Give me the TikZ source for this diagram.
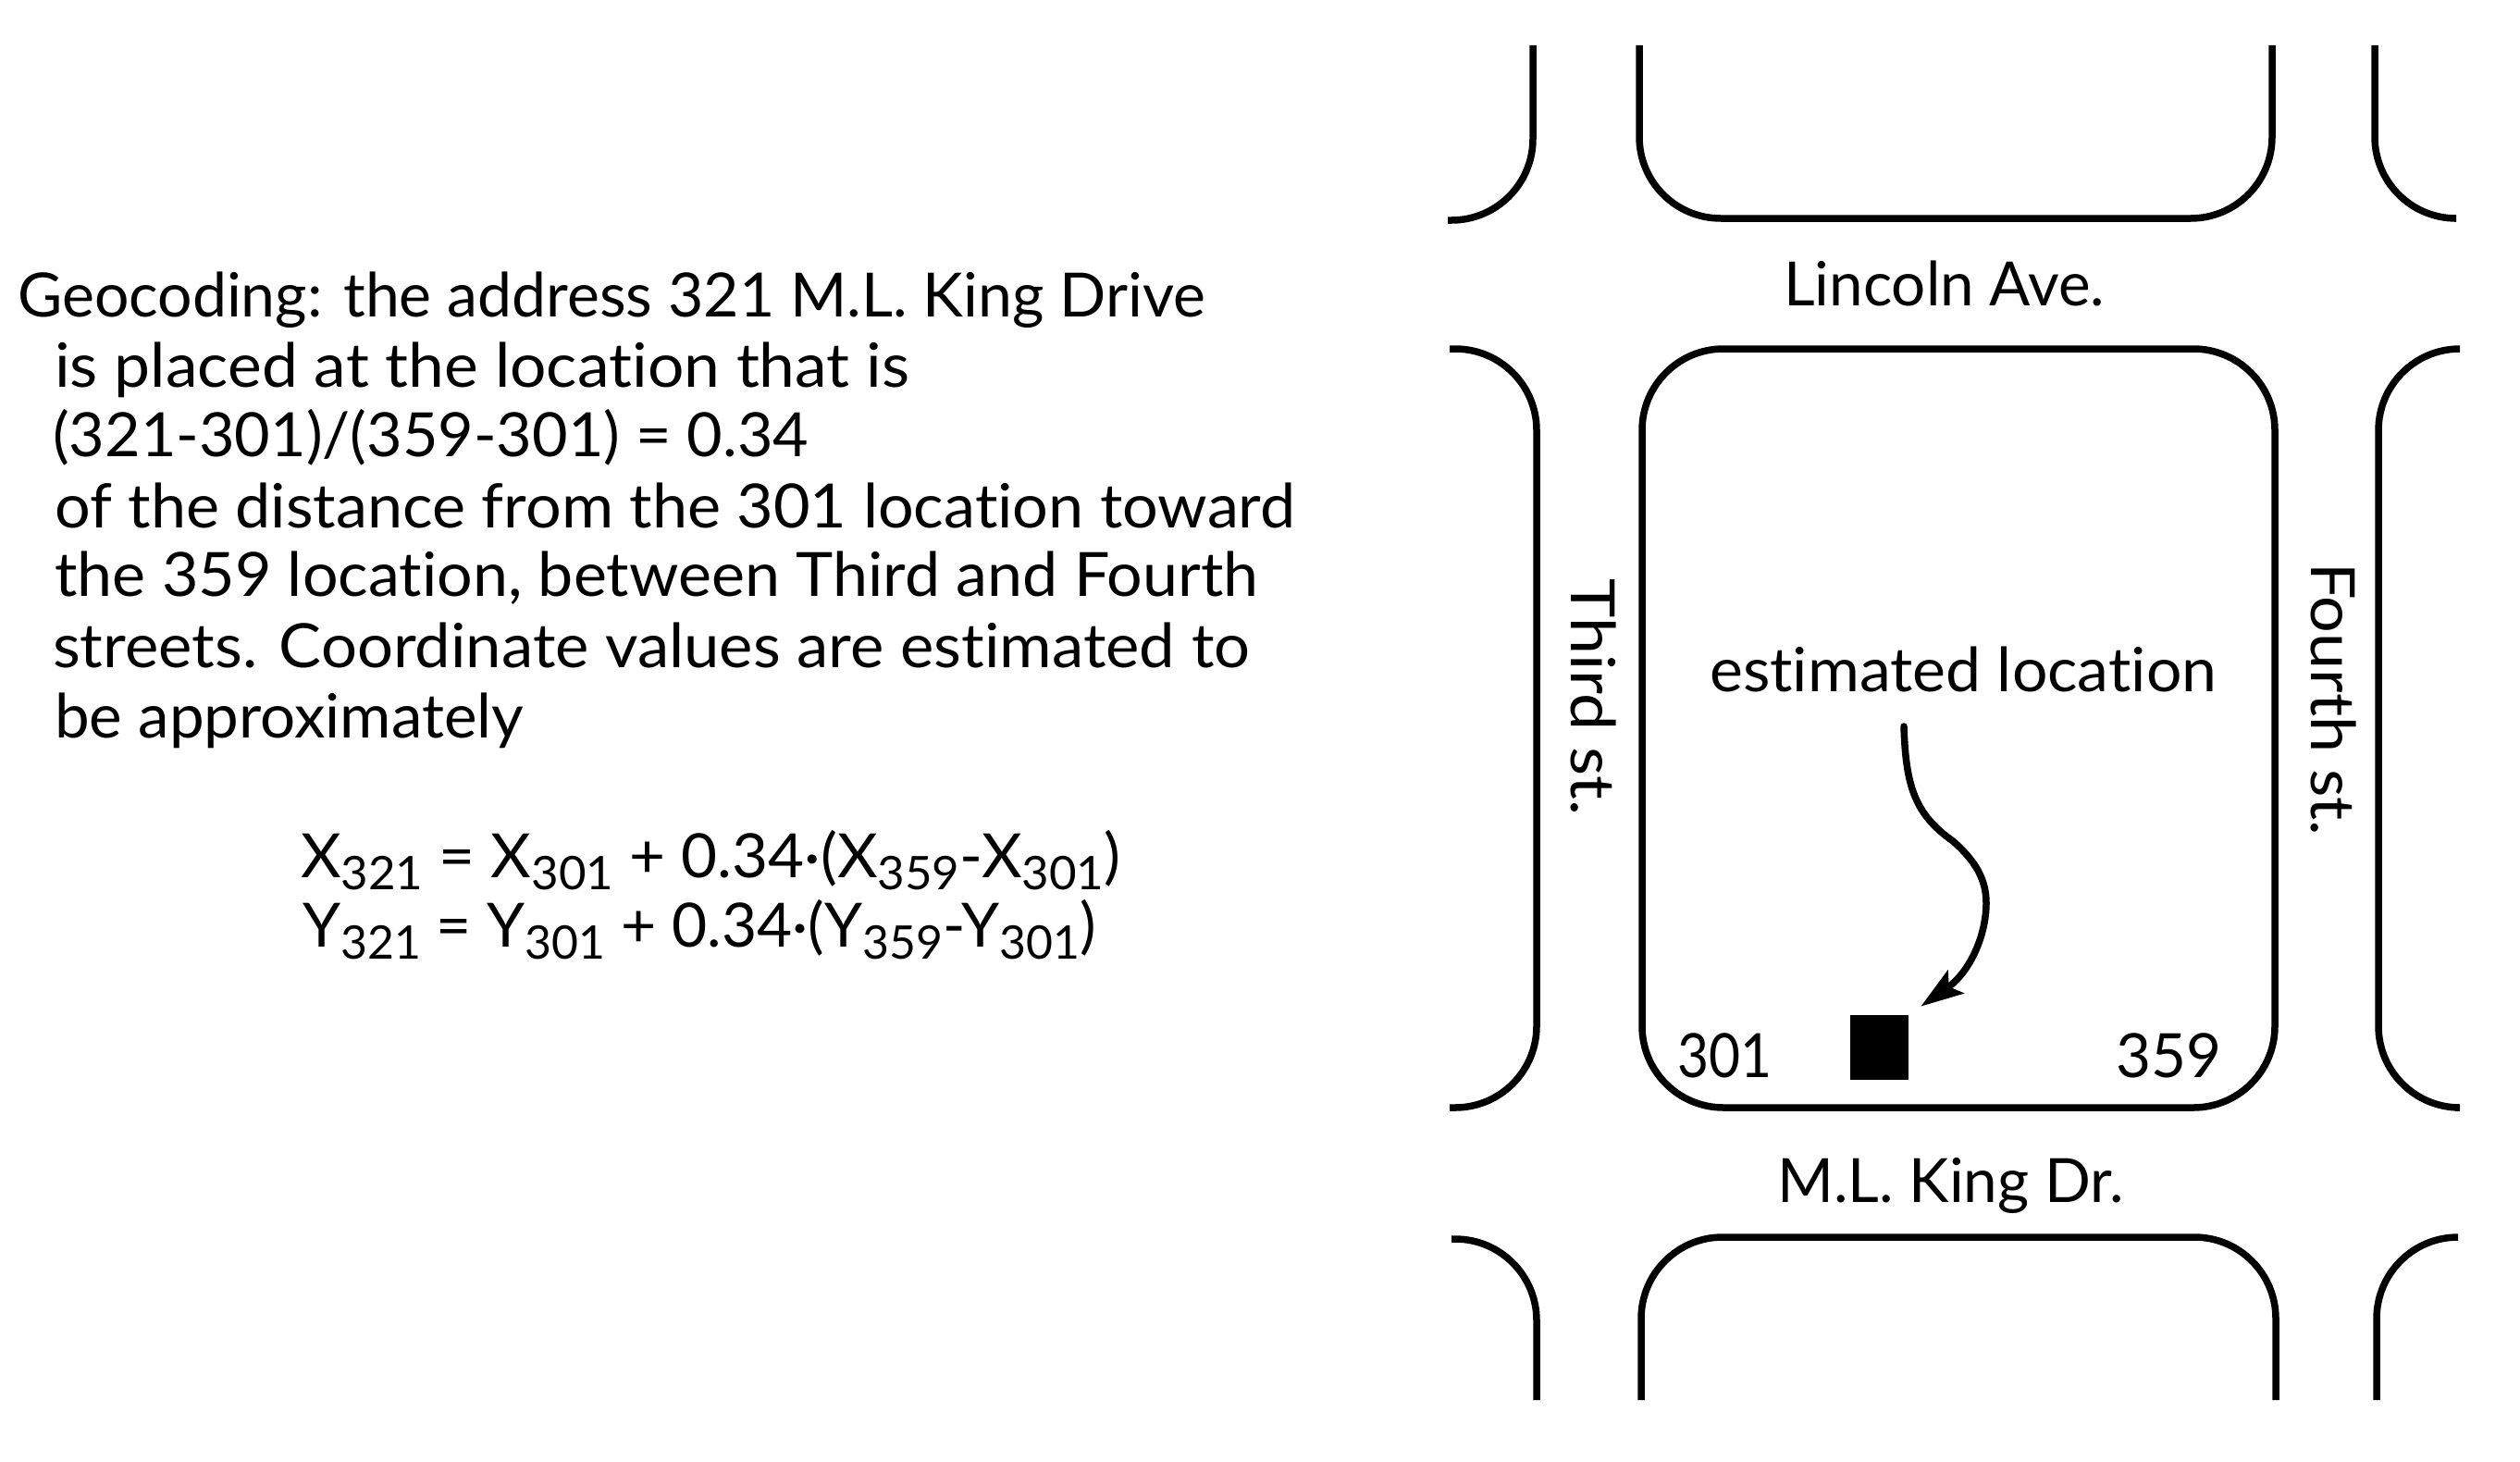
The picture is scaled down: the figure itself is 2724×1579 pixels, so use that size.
\documentclass[tikz,border=0pt]{standalone}
\usepackage{fontspec}
\usepackage{graphicx}
\setmainfont{Lato}[Ligatures=NoCommon]
\usetikzlibrary{arrows.meta}
\newcommand\fitw[2]{\resizebox{#1pt}{\height}{#2}}
\newcommand\sbs[1]{\raisebox{-13pt}{\fontsize{50}{50}\selectfont #1}}
\tikzset{
  lbl/.style={anchor=base west,inner sep=0pt,font=\fontsize{66}{76}\selectfont},
  rlbl/.style={lbl,rotate=-90},
  street/.style={line width=7.5pt,rounded corners=88pt,line cap=butt},
  marker/.style={fill=black,draw=none,minimum width=63pt,minimum height=70pt,inner sep=0pt},
  pointer/.style={line width=7.5pt,line cap=round,-{Stealth[length=46pt,width=30pt,inset=9pt]},shorten >=16pt}
}
\begin{document}
\begin{tikzpicture}[x=1pt,y=-1pt]
\useasboundingbox (0,0) rectangle (2724,1579);
% text block
\node[lbl] (t1) at (19,342) {\fitw{1284}{Geocoding: the address 321 M.L. King Drive}};
\node[lbl] (t2) at (59,418) {\fitw{924}{is placed at the location that is}};
\node[lbl] (t3) at (57,493) {\fitw{817}{(321-301)/(359-301) = 0.34}};
\node[lbl] (t4) at (59,570) {\fitw{1341}{of the distance from the 301 location toward}};
\node[lbl] (t5) at (59,644) {\fitw{1301}{the 359 location, between Third and Fourth}};
\node[lbl] (t6) at (57,721) {\fitw{1294}{streets. Coordinate values are estimated to}};
\node[lbl] (t7) at (59,797) {\fitw{507}{be approximately}};
% formulas
\node[lbl] (f1) at (325,948) {\fitw{886}{X\sbs{321} = X\sbs{301} + 0.34·(X\sbs{359}-X\sbs{301})}};
\node[lbl] (f2) at (327,1023) {\fitw{858}{Y\sbs{321} = Y\sbs{301} + 0.34·(Y\sbs{359}-Y\sbs{301})}};
% blocks: top row
\draw[street] (1657,49) -- (1657,238) -- (1565,238);
\draw[street] (1772,49) -- (1772,236) -- (2456,236) -- (2456,49);
\draw[street] (2567,49) -- (2567,236) -- (2653,236);
% middle row
\draw[street] (1567,377) -- (1661,377) -- (1661,1197) -- (1567,1197);
\draw[street] (1775,377) rectangle (2459,1197);
\draw[street] (2654,377) -- (2571,377) -- (2571,1197) -- (2654,1197);
% bottom row
\draw[street] (1569,1339) -- (1661,1339) -- (1661,1513);
\draw[street] (1774,1513) -- (1774,1337) -- (2460,1337) -- (2460,1513);
\draw[street] (2654,1337) -- (2569,1337) -- (2569,1513);
% street labels
\node[lbl] (lincoln) at (1928,330) {\fitw{347}{Lincoln Ave.}};
\node[lbl] (king) at (1921,1299) {\fitw{375}{M.L. King Dr.}};
\node[rlbl] (third) at (1698,625) {\fitw{256}{Third st.}};
\node[rlbl] (fourth) at (2498,608) {\fitw{295}{Fourth st.}};
% location
\node[lbl] (est) at (1848,747) {\fitw{548}{estimated location}};
\node[lbl] (n301) at (1813,1164) {\fitw{102}{301}};
\node[lbl] (n359) at (2287,1164) {\fitw{114}{359}};
\node[marker] (sq) at (2031.5,1132) {};
\coordinate (from) at (2058,785);
\draw[pointer] (from) .. controls (2060,850) and (2070,880) .. (2111,909)
  .. controls (2135,930) and (2147,950) .. (2147,976)
  .. controls (2147,1010) and (2130,1050) .. (sq.north east);
\end{tikzpicture}
\end{document}
